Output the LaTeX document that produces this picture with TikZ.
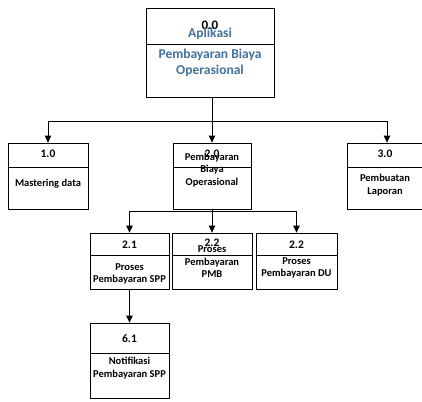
\documentclass[tikz,border=0pt]{standalone}
\usepackage{fontspec}
\setmainfont{Carlito}
\usetikzlibrary{arrows.meta}
\definecolor{titleblue}{RGB}{65,113,156}

\begin{document}
\begin{tikzpicture}[x=1pt,y=-1pt,->,>={Triangle[length=7pt,width=6.5pt]},thick,
		box/.style={draw,thick,minimum width=80pt,inner sep=0pt},
		num/.style={font=\bfseries\fontsize{11.5}{13}\selectfont},
		txt/.style={font=\bfseries\fontsize{10.5}{12.5}\selectfont,align=center}]
		\useasboundingbox (0,0) rectangle (422,401);

		% top process
		\node at (210,52.5) [box,minimum width=128pt,minimum height=89pt] (b00) {};
		\draw[-] (b00.west |- 0,44) -- (b00.east |- 0,44);
		\node at (210,25) [font=\bfseries\fontsize{13}{15}\selectfont] (n00) {0.0};
		\node at (210,34) [font=\bfseries\fontsize{13.5}{15}\selectfont,titleblue] (t00a) {Aplikasi};
		\node at (210,63) [font=\bfseries\fontsize{13.5}{16}\selectfont,titleblue,align=center] (t00b) {Pembayaran Biaya\\Operasional};

		% level 1
		\node at (48,176) [box,minimum height=66pt] (b10) {};
		\draw[-] (b10.west |- 0,167) -- (b10.east |- 0,167);
		\node at (48,154) [num] (n10) {1.0};
		\node at (48,184) [txt] (t10) {Mastering data};

		\node at (212,176) [box,minimum width=78pt,minimum height=66pt] (b20) {};
		\draw[-] (b20.west |- 0,167) -- (b20.east |- 0,167);
		\node at (212,154) [num] (n20) {2.0};
		\node at (212,170) [txt] (t20) {Pembayaran\\Biaya\\Operasional};

		\node at (387,176) [box,minimum height=66pt] (b30) {};
		\draw[-] (b30.west |- 0,167) -- (b30.east |- 0,167);
		\node at (385,154) [num] (n30) {3.0};
		\node at (385,185) [txt] (t30) {Pembuatan\\Laporan};

		% level 2
		\node at (129.5,261) [box,minimum width=79pt,minimum height=56pt] (b21) {};
		\draw[-] (b21.west |- 0,255) -- (b21.east |- 0,255);
		\node at (129.5,245) [num] (n21) {2.1};
		\node at (129.5,274) [txt] (t21) {Proses\\Pembayaran SPP};

		\node at (212,261) [box,minimum height=56pt] (b22) {};
		\draw[-] (b22.west |- 0,255) -- (b22.east |- 0,255);
		\node at (212,243) [num] (n22) {2.2};
		\node at (212,262) [txt] (t22) {Proses\\Pembayaran\\PMB};

		\node at (296.5,261) [box,minimum width=81pt,minimum height=56pt] (b23) {};
		\draw[-] (b23.west |- 0,255) -- (b23.east |- 0,255);
		\node at (296.5,245) [num] (n23) {2.2};
		\node at (296.5,268) [txt] (t23) {Proses\\Pembayaran DU};

		% level 3
		\node at (129.5,360.5) [box,minimum width=79pt,minimum height=75pt] (b61) {};
		\draw[-] (b61.west |- 0,353) -- (b61.east |- 0,353);
		\node at (129.5,339) [num] (n61) {6.1};
		\node at (129.5,368) [txt] (t61) {Notifikasi\\Pembayaran SPP};

		% connectors
		\coordinate (j0) at (212,121);
		\coordinate (j2) at (212,211);
		\draw[-] (b00.south -| j0) -- (j0);
		\draw (j0) -| (b10);
		\draw (j0) -- (b20);
		\draw (j0) -| (b30);
		\draw[-] (b20) -- (j2);
		\draw (j2) -| (b21);
		\draw (j2) -- (b22);
		\draw (j2) -| (b23);
		\draw (b21) -- (b61);
	\end{tikzpicture}
\end{document}
